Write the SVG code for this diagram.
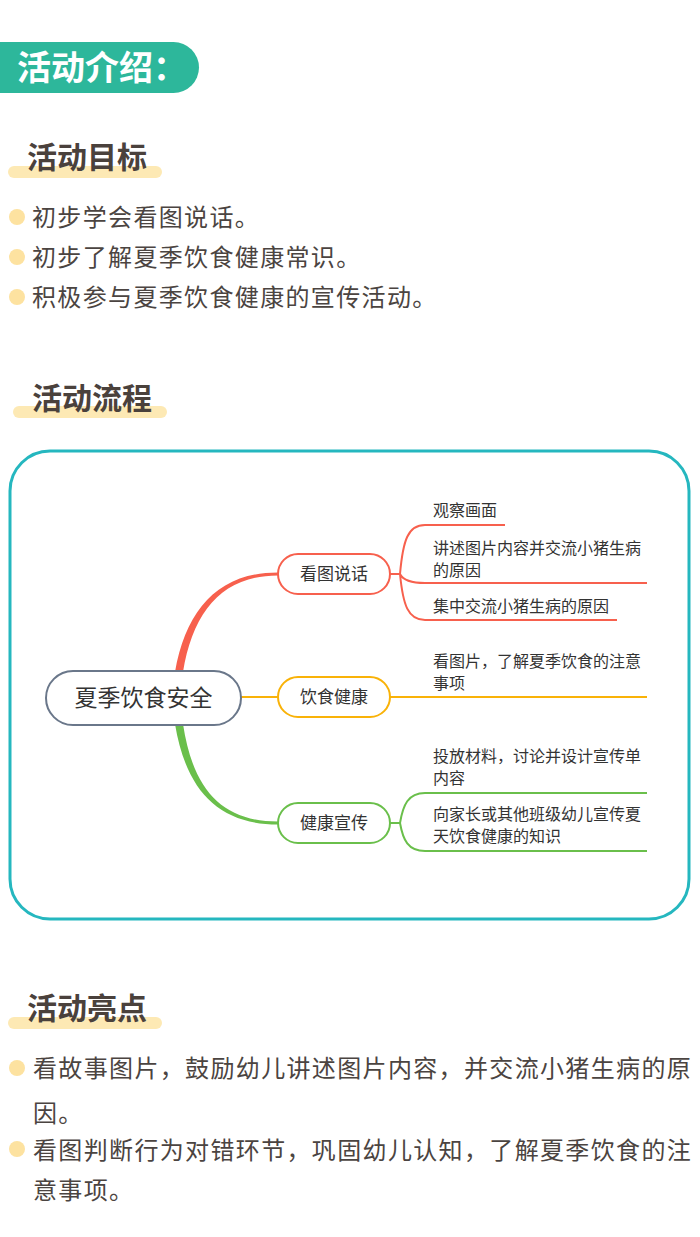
<svg xmlns="http://www.w3.org/2000/svg" width="700" height="1237" viewBox="0 0 700 1237">
<style>
.h{font-family:"Noto Sans CJK SC","Noto Sans",sans-serif;font-weight:bold;font-size:30px;fill:#4a413c}
.hb{fill:#fde9b4}
.b{font-family:"Noto Sans CJK SC","Noto Sans",sans-serif;font-size:24px;fill:#4b4441;letter-spacing:1.35px}
.dot{fill:#fde2a0}
.m{font-family:"Noto Sans CJK SC","Noto Sans",sans-serif;font-size:16px;fill:#333}
.n{font-family:"Noto Sans CJK SC","Noto Sans",sans-serif;font-size:17px;fill:#333;text-anchor:middle}
.node{fill:#fff;stroke-width:2}
.ln{fill:none;stroke-width:2}
</style>
<rect width="700" height="1237" fill="#fff"/>
<g id="header">
<rect x="-40" y="42" width="239" height="51" rx="25.5" fill="#2db79b"/>
<text x="17" y="80" font-family="'Noto Sans CJK SC',sans-serif" font-weight="bold" font-size="34" fill="#fff">活动介绍：</text>
</g>
<g id="goals">
<rect class="hb" x="8" y="166" width="154" height="12" rx="6"/>
<text class="h" x="27" y="168">活动目标</text>
<circle class="dot" cx="17" cy="217" r="8"/>
<circle class="dot" cx="17" cy="257" r="8"/>
<circle class="dot" cx="17" cy="297" r="8"/>
<text class="b" x="32" y="226">初步学会看图说话。</text>
<text class="b" x="32" y="266">初步了解夏季饮食健康常识。</text>
<text class="b" x="32" y="306">积极参与夏季饮食健康的宣传活动。</text>
</g>
<g id="process-title">
<rect class="hb" x="13" y="406" width="154" height="12" rx="6"/>
<text class="h" x="32" y="409">活动流程</text>
</g>
<rect id="frame" x="10" y="451" width="679" height="468" rx="40" fill="none" stroke="#25b7bf" stroke-width="3"/>
<g id="connectors">
<path d="M175,672 C186,610 218,572.5 278,572.5 L278,575.5 C222,575.5 193,612 183,672 Z" fill="#f7604d"/>
<path d="M175,724 C186,790 218,824.5 278,824.5 L278,821.5 C222,821.5 193,790 183,724 Z" fill="#6abf4b"/>
<line class="ln" x1="241" y1="697" x2="278" y2="697" stroke="#f9b208"/>
<path class="ln" stroke="#f7604d" d="M390,574 H400 M400,574 C403,540 408,525 425,525 H505 M400,574 C403,580 410,583 425,583 H647 M400,574 C403,605 408,620 425,620 H617"/>
<line class="ln" x1="390" y1="697" x2="647" y2="697" stroke="#f9b208"/>
<path class="ln" stroke="#6abf4b" d="M390,823 H400 M400,823 C403,805 408,793 425,793 H647 M400,823 C403,840 408,851 425,851 H647"/>
</g>
<g id="center-node">
<rect class="node" x="46" y="671" width="195" height="54" rx="27" stroke="#6a778a"/>
<text x="143.5" y="706" font-family="'Noto Sans CJK SC',sans-serif" font-size="23" fill="#333" text-anchor="middle">夏季饮食安全</text>
</g>
<g id="node-kantu">
<rect class="node" x="278" y="554" width="112" height="40" rx="20" stroke="#f7604d"/>
<text class="n" x="334" y="580">看图说话</text>
</g>
<g id="node-yinshi">
<rect class="node" x="278" y="677" width="112" height="40" rx="20" stroke="#f9b208"/>
<text class="n" x="334" y="703">饮食健康</text>
</g>
<g id="node-xuanchuan">
<rect class="node" x="278" y="803" width="112" height="40" rx="20" stroke="#6abf4b"/>
<text class="n" x="334" y="829">健康宣传</text>
</g>
<g id="leaf-1"><text class="m" x="433" y="516">观察画面</text></g>
<g id="leaf-2"><text class="m" x="433" y="554">讲述图片内容并交流小猪生病<tspan x="433" dy="22">的原因</tspan></text></g>
<g id="leaf-3"><text class="m" x="433" y="612">集中交流小猪生病的原因</text></g>
<g id="leaf-4"><text class="m" x="433" y="667">看图片，了解夏季饮食的注意<tspan x="433" dy="22">事项</tspan></text></g>
<g id="leaf-5"><text class="m" x="433" y="762">投放材料，讨论并设计宣传单<tspan x="433" dy="22">内容</tspan></text></g>
<g id="leaf-6"><text class="m" x="433" y="820">向家长或其他班级幼儿宣传夏<tspan x="433" dy="22">天饮食健康的知识</tspan></text></g>
<g id="highlights">
<rect class="hb" x="8" y="1017" width="154" height="12" rx="6"/>
<text class="h" x="27" y="1019">活动亮点</text>
<circle class="dot" cx="17" cy="1068" r="8"/>
<circle class="dot" cx="17" cy="1149" r="8"/>
<text class="b" x="33" y="1077">看故事图片，鼓励幼儿讲述图片内容，并交流小猪生病的原</text>
<text class="b" x="33" y="1122">因。</text>
<text class="b" x="33" y="1159">看图判断行为对错环节，巩固幼儿认知，了解夏季饮食的注</text>
<text class="b" x="33" y="1199">意事项。</text>
</g>
</svg>
